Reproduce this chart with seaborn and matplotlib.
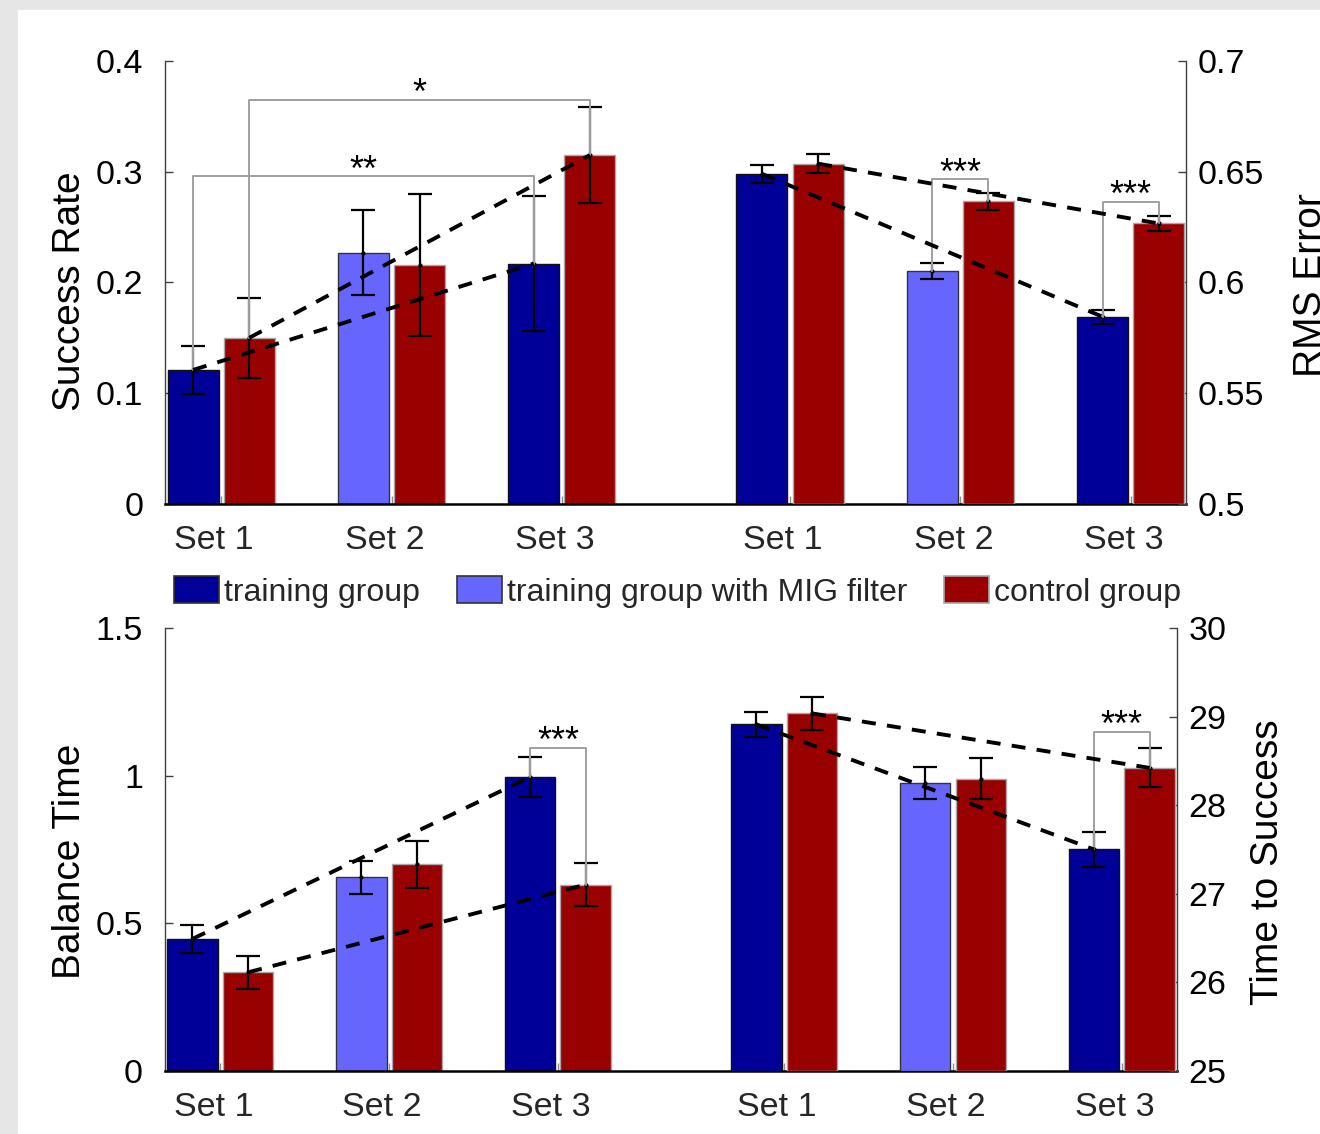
import numpy as np
import matplotlib.pyplot as plt
import matplotlib.patches as mpatches
from matplotlib.transforms import ScaledTranslation
import seaborn as sns

sns.set_style("ticks")
plt.rcParams["font.family"] = ["Liberation Sans", "DejaVu Sans"]

sets = ["Set 1", "Set 2", "Set 3"]
group_labels = ["training group", "training group with MIG filter", "control group"]

# top panel: success rate (left half), RMS error (right half)
sr_train = [0.121, 0.227, 0.217]
sr_train_err = [0.022, 0.038, 0.061]
sr_ctrl = [0.150, 0.216, 0.315]
sr_ctrl_err = [0.036, 0.064, 0.043]
rms_train = [0.649, 0.6052, 0.5845]
rms_train_err = [0.004, 0.0037, 0.0032]
rms_ctrl = [0.6536, 0.6366, 0.6266]
rms_ctrl_err = [0.0042, 0.0038, 0.0036]

# bottom panel: balance time (left half), time to success (right half)
bt_train = [0.447, 0.656, 0.995]
bt_train_err = [0.048, 0.056, 0.068]
bt_ctrl = [0.334, 0.699, 0.631]
bt_ctrl_err = [0.055, 0.079, 0.073]
tts_train = [28.91, 28.25, 27.50]
tts_train_err = [0.14, 0.18, 0.20]
tts_ctrl = [29.035, 28.30, 28.42]
tts_ctrl_err = [0.185, 0.23, 0.22]

# significance brackets: (label, set index a, group a, set index b, group b, height)
sig_sr = [("**", 0, "train", 2, "train", 0.296), ("*", 0, "ctrl", 2, "ctrl", 0.365)]
sig_rms = [("***", 1, "train", 1, "ctrl", 0.6467), ("***", 2, "train", 2, "ctrl", 0.6364)]
sig_bt = [("***", 2, "train", 2, "ctrl", 1.094)]
sig_tts = [("***", 2, "train", 2, "ctrl", 28.83)]

# axis ticks
sr_ticks = [0, 0.1, 0.2, 0.3, 0.4]
sr_ticklabels = ["0", "0.1", "0.2", "0.3", "0.4"]
rms_ticks = [0.5, 0.55, 0.6, 0.65, 0.7]
rms_ticklabels = ["0.5", "0.55", "0.6", "0.65", "0.7"]
bt_ticks = [0, 0.5, 1, 1.5]
bt_ticklabels = ["0", "0.5", "1", "1.5"]
tts_ticks = [25, 26, 27, 28, 29, 30]
tts_ticklabels = ["25", "26", "27", "28", "29", "30"]

navy = "#000099"
light = "#6666ff"
red = "#990000"
off = 0.165
w = 0.30
x_left = np.arange(3)
x_right = x_left + 3.34


def draw_half(ax, xs, train, train_err, ctrl, ctrl_err, base, sigs):
    train = np.array(train)
    ctrl = np.array(ctrl)
    ax.bar(xs - off, train - base, width=w, bottom=base,
           color=[navy, light, navy], edgecolor=["#111111", "#333333", "#111111"],
           linewidth=1, zorder=2)
    ax.bar(xs + off, ctrl - base, width=w, bottom=base, color=red,
           edgecolor="#a8a8a8", linewidth=1, zorder=2)
    for v, e, sh in [(train, train_err, -off), (ctrl, ctrl_err, off)]:
        ax.errorbar(xs + sh, v, yerr=e, fmt="o", ms=2, color="k", ecolor="k",
                    elinewidth=1.6, capsize=8.5, capthick=1.6, zorder=3)
    # trend lines set 1 -> set 3
    for v, sh in [(train, -off), (ctrl, off)]:
        sns.lineplot(x=[xs[0] + sh, xs[2] + sh], y=[v[0], v[2]], ax=ax, color="k",
                     lw=2.8, linestyle=(0, (3.6, 2.9)), zorder=5)
    vals = {"train": (train, -off), "ctrl": (ctrl, off)}
    for txt, ia, ga, ib, gb, top in sigs:
        xa = xs[ia] + vals[ga][1]
        xb = xs[ib] + vals[gb][1]
        ya = vals[ga][0][ia]
        yb = vals[gb][0][ib]
        ax.plot([xa, xa, xb, xb], [ya, top, top, yb], color="#a0a0a0", lw=1.4, zorder=4)
        ax.annotate(txt, xy=((xa + xb) / 2, top), xytext=(0, -3.3),
                    textcoords="offset points", ha="center", va="baseline",
                    fontsize=26, color="k")


def style_axes(ax, ax2, ylim, yticks, yticklabels, ylim2, yticks2, yticklabels2,
               ylabel, ylabel2, lx, ly, rx, ry):
    ax.set_xlim(-0.33, 5.665)
    ax.set_ylim(*ylim)
    ax2.set_ylim(*ylim2)
    ax.set_yticks(yticks)
    ax.set_yticklabels(yticklabels)
    ax2.set_yticks(yticks2)
    ax2.set_yticklabels(yticklabels2)
    ax.set_xticks(np.concatenate([x_left, x_right]))
    ax.set_xticklabels(sets + sets)
    ax.tick_params(axis="y", direction="in", length=6, width=1, color="#404040",
                   labelsize=24.5, labelcolor="k", pad=15.5)
    ax.tick_params(axis="x", direction="in", length=6, width=1, color="#909090",
                   labelsize=24.5, labelcolor="#262626", pad=15)
    ax2.tick_params(axis="y", direction="in", length=6, width=1, color="#404040",
                    labelsize=24.5, labelcolor="k", pad=8.6)
    # labels sit slightly left of their ticks in the original
    shift = ScaledTranslation(-7 / 100, 0, ax.figure.dpi_scale_trans)
    for lab in ax.get_xticklabels():
        lab.set_transform(lab.get_transform() + shift)
    for s in ["top", "right"]:
        ax.spines[s].set_visible(False)
    for s in ["top", "left", "bottom"]:
        ax2.spines[s].set_visible(False)
    ax.spines["left"].set_color("#404040")
    ax.spines["left"].set_linewidth(1)
    ax.spines["bottom"].set_color("k")
    ax.spines["bottom"].set_linewidth(1.8)
    ax2.spines["right"].set_color("#404040")
    ax2.spines["right"].set_linewidth(1)
    ax.set_xlabel("")
    ax.set_ylabel(ylabel, fontsize=28, color="k")
    ax2.set_ylabel(ylabel2, fontsize=28, color="k")
    ax.yaxis.set_label_coords(lx, ly)
    ax2.yaxis.set_label_coords(rx, ry)
    ax.set_facecolor("white")


fig = plt.figure(figsize=(13.2, 11.34), dpi=100, facecolor="#e6e6e6")
fig.add_artist(mpatches.Rectangle((18 / 1320, 0), 1, 1 - 10 / 1134,
                                  transform=fig.transFigure, color="white", zorder=0))

ax_top = fig.add_axes([0.125, 0.5556, 0.7735, 0.3907])
ax_top2 = ax_top.twinx()
draw_half(ax_top, x_left, sr_train, sr_train_err, sr_ctrl, sr_ctrl_err, 0, sig_sr)
draw_half(ax_top2, x_right, rms_train, rms_train_err, rms_ctrl, rms_ctrl_err, 0.5, sig_rms)
style_axes(ax_top, ax_top2, (0, 0.4), sr_ticks, sr_ticklabels, (0.5, 0.7), rms_ticks,
           rms_ticklabels, "Success Rate", "RMS Error", -0.0754, 0.481, 1.105, 0.494)

ax_bot = fig.add_axes([0.1247, 0.0556, 0.7667, 0.3907])
ax_bot2 = ax_bot.twinx()
draw_half(ax_bot, x_left, bt_train, bt_train_err, bt_ctrl, bt_ctrl_err, 0, sig_bt)
draw_half(ax_bot2, x_right, tts_train, tts_train_err, tts_ctrl, tts_ctrl_err, 25, sig_tts)
style_axes(ax_bot, ax_bot2, (0, 1.5), bt_ticks, bt_ticklabels, (25, 30), tts_ticks,
           tts_ticklabels, "Balance Time", "Time to Success", -0.0754, 0.473, 1.0725, 0.471)

handles = [mpatches.Patch(facecolor=navy, edgecolor="#333333", lw=1.2),
           mpatches.Patch(facecolor=light, edgecolor="#333333", lw=1.2),
           mpatches.Patch(facecolor=red, edgecolor="#a8a8a8", lw=1.2)]
fig.legend(handles, group_labels, loc="center", bbox_to_anchor=(0.5135, 1 - 592 / 1134),
           ncol=3, frameon=False, fontsize=23, handlelength=1.41, handleheight=0.91,
           handletextpad=0.16, columnspacing=1.15, borderaxespad=0, borderpad=0)

fig.savefig("out.png", dpi=100, facecolor=fig.get_facecolor())
